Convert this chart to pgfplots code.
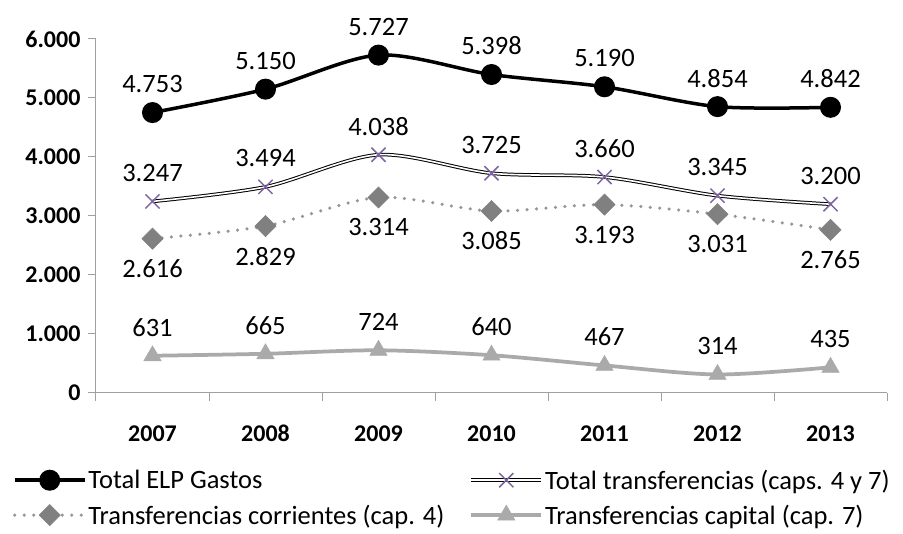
\documentclass[border=0pt]{standalone}
\usepackage{fontspec}
\setmainfont{Carlito}
\usepackage{pgfplots}
\pgfplotsset{compat=1.18}

\definecolor{xPurple}{RGB}{128,100,162}
\definecolor{diamGray}{RGB}{128,128,128}
\definecolor{dotGray}{RGB}{150,150,150}
\definecolor{capGray}{RGB}{170,170,170}
\definecolor{axisGray}{RGB}{160,160,160}

\pgfplotsset{
  double legend/.style={legend image code/.code={%
    \draw[black, line width=1pt, double=white, double distance=1.6pt] (0pt,0pt) -- (70pt,0pt);
    \draw[##1] plot coordinates {(35pt,0pt)};}},
  lbl above/.style={nodes near coords, nodes near coords style={yshift=28.5pt}},
  lbl below/.style={nodes near coords, nodes near coords style={yshift=-30pt}},
}

\begin{document}
\begin{tikzpicture}
\begin{axis}[
  scale only axis,
  width=791pt, height=354pt,
  xmin=-0.5, xmax=6.5,
  ymin=0, ymax=6000,
  axis x line*=bottom, axis y line*=left,
  axis line style={draw=axisGray, line width=1pt},
  xtick={0,...,6},
  xticklabels={2007,2008,2009,2010,2011,2012,2013},
  minor xtick={-0.5,0.5,...,6.5},
  ytick={0,1000,...,6000},
  scaled y ticks=false,
  tick align=outside,
  major tick length=8pt, minor tick length=8pt,
  tick style={draw=axisGray, line width=1pt},
  major x tick style={draw=none},
  /pgf/number format/1000 sep={.},
  /pgf/number format/assume math mode=true,
  ticklabel style={font=\fontsize{24}{28}\bfseries\selectfont},
  xticklabel style={anchor=base, yshift=-40.5pt},
  yticklabel style={xshift=-4pt},
  clip=false,
  nodes near coords style={font=\fontsize{26.5}{30}\selectfont, text=black, anchor=center},
  legend columns=2,
  legend cell align=left,
  legend style={draw=none, fill=none, at={(-0.109,-0.205)}, anchor=north west,
    font=\fontsize{26.5}{30}\selectfont,
    /tikz/every even column/.append style={column sep=23pt}, row sep=10pt},
  legend image code/.code={\draw[mark repeat=2,mark phase=2,#1] plot coordinates {(0pt,0pt) (35pt,0pt) (70pt,0pt)};},
]
% Total ELP Gastos
\addplot[black, line width=3.5pt, smooth, mark=*, mark size=10pt,
  mark options={fill=black, line width=1pt}, lbl above]
  coordinates {(0,4753) (1,5150) (2,5727) (3,5398) (4,5190) (5,4854) (6,4842)};
\addlegendentry{Total ELP Gastos}

% Total transferencias: double line, then the marks
\addplot[forget plot, smooth, draw=black, line width=1pt, double=white, double distance=1.6pt, no markers]
  coordinates {(0,3247) (1,3494) (2,4038) (3,3725) (4,3660) (5,3345) (6,3200)};
\addplot[only marks, mark=x, mark size=10pt, mark options={draw=xPurple, line width=1.5pt},
  lbl above, double legend]
  coordinates {(0,3247) (1,3494) (2,4038) (3,3725) (4,3660) (5,3345) (6,3200)};
\addlegendentry{Total transferencias (caps. 4 y 7)}

% Transferencias corrientes
\addplot[dotGray, line width=3.5pt, line cap=round, dash pattern=on 0pt off 9.5pt, smooth,
  mark=square*, mark size=7.5pt,
  mark options={solid, fill=diamGray, draw=diamGray, rotate=45, line width=0.5pt}, lbl below]
  coordinates {(0,2616) (1,2829) (2,3314) (3,3085) (4,3193) (5,3031) (6,2765)};
\addlegendentry{Transferencias corrientes (cap. 4)}

% Transferencias capital
\addplot[capGray, line width=3.75pt, smooth, mark=triangle*, mark size=10pt,
  mark options={fill=capGray, draw=capGray, line width=0.5pt}, lbl above]
  coordinates {(0,631) (1,665) (2,724) (3,640) (4,467) (5,314) (6,435)};
\addlegendentry{Transferencias capital (cap. 7)}
\end{axis}
\pgfresetboundingbox
\path ([shift={(-96pt,-141pt)}]current axis.south west) rectangle ([shift={(16pt,39pt)}]current axis.north east);
\end{tikzpicture}
\end{document}
